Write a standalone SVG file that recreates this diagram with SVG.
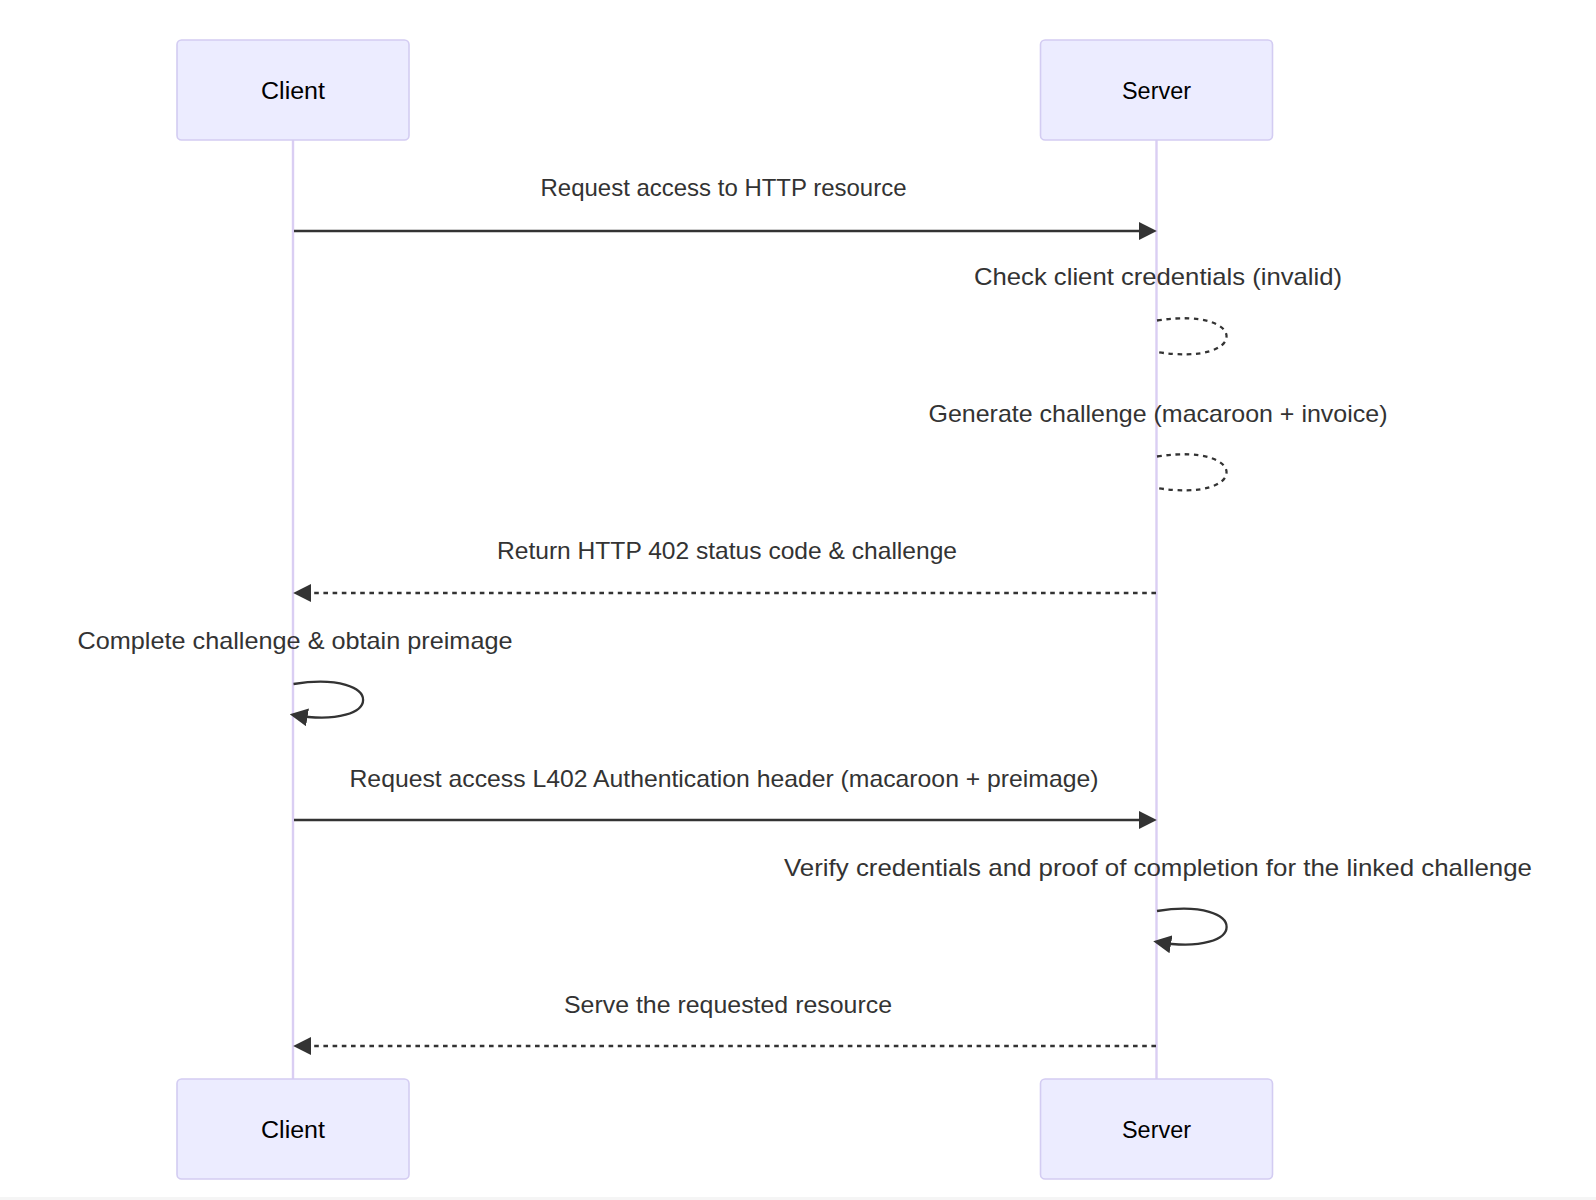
<svg xmlns="http://www.w3.org/2000/svg" width="1596" height="1200" viewBox="0 0 1596 1200">
<style>
.actor{fill:#ECECFF;stroke:#D3CCF2;stroke-width:1.6}
.atext{font-family:"Liberation Sans",Arial,sans-serif;font-size:23px;fill:#000;text-anchor:middle}
.mtext{font-family:"Liberation Sans",Arial,sans-serif;font-size:24px;fill:#333;text-anchor:middle}
.life{stroke:#DACEF3;stroke-width:2.4;fill:none}
.msg{stroke:#333;stroke-width:2.3;fill:none}
.dash{stroke-dasharray:4.6 4.6}
</style>
<defs>
<marker id="ah" markerUnits="userSpaceOnUse" markerWidth="18" markerHeight="18" refX="12.2" refY="7.75" orient="auto" viewBox="0 0 15.5 15.5">
<path d="M0,0 L15.5,7.75 L0,15.5 z" fill="#333"/>
</marker>
</defs>
<rect x="0" y="0" width="1596" height="1200" fill="#fff"/>
<rect x="0" y="1197" width="1596" height="3" fill="#f5f5f5"/>
<g id="lifelines">
<line class="life" x1="293" y1="140" x2="293" y2="1079"/>
<line class="life" x1="1156.5" y1="140" x2="1156.5" y2="1079"/>
</g>
<g id="client-top"><rect class="actor" x="177" y="40" width="232" height="100" rx="4.6"/><text class="atext" x="293" y="99" textLength="64" lengthAdjust="spacingAndGlyphs">Client</text></g>
<g id="server-top"><rect class="actor" x="1040.5" y="40" width="232" height="100" rx="4.6"/><text class="atext" x="1156.5" y="99" textLength="69" lengthAdjust="spacingAndGlyphs">Server</text></g>
<g id="client-bottom"><rect class="actor" x="177" y="1079" width="232" height="100" rx="4.6"/><text class="atext" x="293" y="1138" textLength="64" lengthAdjust="spacingAndGlyphs">Client</text></g>
<g id="server-bottom"><rect class="actor" x="1040.5" y="1079" width="232" height="100" rx="4.6"/><text class="atext" x="1156.5" y="1138" textLength="69" lengthAdjust="spacingAndGlyphs">Server</text></g>
<g id="connectors">
<line class="msg" x1="294" y1="231" x2="1153" y2="231" marker-end="url(#ah)"/>
<path class="msg dash" d="M1157,320.5 C1249.8,306 1249.8,367 1157,352"/>
<path class="msg dash" d="M1157,456.5 C1249.8,442 1249.8,503 1157,488"/>
<line class="msg dash" x1="1156" y1="593" x2="297" y2="593" marker-end="url(#ah)"/>
<path class="msg" d="M293.5,684 C386.3,669.5 386.3,730.5 293.5,715" marker-end="url(#ah)"/>
<line class="msg" x1="294" y1="820" x2="1153" y2="820" marker-end="url(#ah)"/>
<path class="msg" d="M1157,911 C1249.8,896.5 1249.8,957.5 1157,942" marker-end="url(#ah)"/>
<line class="msg dash" x1="1156" y1="1046" x2="297" y2="1046" marker-end="url(#ah)"/>
</g>
<g id="labels">
<text class="mtext" x="723.5" y="195.5" textLength="366" lengthAdjust="spacingAndGlyphs">Request access to HTTP resource</text>
<text class="mtext" x="1158" y="284.5" textLength="368" lengthAdjust="spacingAndGlyphs">Check client credentials (invalid)</text>
<text class="mtext" x="1158" y="421.5" textLength="459" lengthAdjust="spacingAndGlyphs">Generate challenge (macaroon + invoice)</text>
<text class="mtext" x="727" y="558.5" textLength="460" lengthAdjust="spacingAndGlyphs">Return HTTP 402 status code &amp; challenge</text>
<text class="mtext" x="295" y="648.5" textLength="435" lengthAdjust="spacingAndGlyphs">Complete challenge &amp; obtain preimage</text>
<text class="mtext" x="724" y="786.5" textLength="749" lengthAdjust="spacingAndGlyphs">Request access L402 Authentication header (macaroon + preimage)</text>
<text class="mtext" x="1158" y="875.5" textLength="748" lengthAdjust="spacingAndGlyphs">Verify credentials and proof of completion for the linked challenge</text>
<text class="mtext" x="728" y="1012.5" textLength="328" lengthAdjust="spacingAndGlyphs">Serve the requested resource</text>
</g>
</svg>
